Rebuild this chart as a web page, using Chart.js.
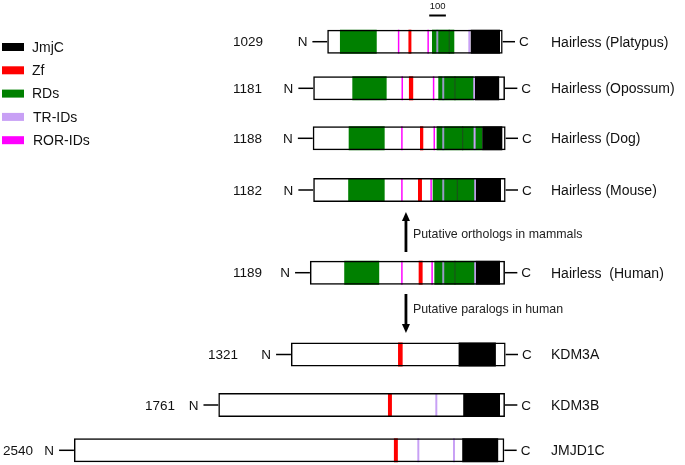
<!DOCTYPE html>
<html>
<head>
<meta charset="utf-8">
<script src="https://cdn.jsdelivr.net/npm/chart.js@4.4.1/dist/chart.umd.min.js"></script>
<style>
  html, body { margin: 0; padding: 0; background: #fff; }
  #wrap { width: 685px; height: 465px; }
</style>
</head>
<body>
<div id="wrap"><canvas id="domains" width="685" height="465"></canvas></div>
<script>
// Proteins, top to bottom (row index = position in these arrays)
const proteins = ['Hairless (Platypus)', 'Hairless (Opossum)', 'Hairless (Dog)', 'Hairless (Mouse)',
  'Hairless  (Human)', 'KDM3A', 'KDM3B', 'JMJD1C'];
const lengths = [1029, 1181, 1188, 1182, 1189, 1321, 1761, 2540];

// Positions in residues, C-termini aligned at 0
const boxes = [[-1077, -14], [-1162, 0], [-1165, 4], [-1162, 4], [-1182, 0], [-1297, 4], [-1737, 0], [-2612, -4]];

// [row, start, end]
const jmjc = [[0, -208, -30], [1, -182, -35], [2, -138, -16], [3, -178, -24], [4, -178, -30],
  [5, -281, -55], [6, -253, -30], [7, -259, -41]];
const zf = [[0, -585, -567], [1, -582, -556], [2, -515, -495], [3, -527, -503], [4, -523, -499],
  [5, -648, -620], [6, -709, -685], [7, -673, -649]];
const rds = [[0, -1000, -777], [0, -442, -307], [1, -925, -717], [1, -404, -188],
  [2, -947, -729], [2, -414, -138], [3, -950, -729], [3, -438, -178], [4, -974, -762], [4, -428, -178]];
const trIds = [[0, -222, -210], [1, -192, -182], [2, -190, -178], [3, -186, -176], [4, -186, -176],
  [6, -422, -410], [7, -531, -519], [7, -315, -303]];
const trIdsInRd = [[0, -416, -404], [1, -380, -368], [2, -380, -368], [3, -380, -368], [4, -380, -368]];
const rdSplits = [[0, -341, -335], [1, -306, -300], [2, -259, -253], [3, -292, -286], [4, -306, -300]];
const rorIds = [[0, -649, -640], [0, -470, -461], [1, -627, -618], [1, -437, -428],
  [2, -629, -620], [2, -433, -424], [3, -629, -620], [3, -452, -443], [4, -629, -620], [4, -446, -437]];

const scaleBar = [-459, -358]; // 100 residues

const legendNames = ['JmjC', 'Zf', 'RDs', 'TR-IDs', 'ROR-IDs'];
const legendColors = ['#000000', '#ff0000', '#008000', '#c8a0f5', '#ff00ff'];

// layout (pixels / axis units)
const X_MIN = -3060, X_MAX = 1091;
const rowY = [41.7, 88.3, 138.3, 190, 272.7, 354.5, 405, 450.3];
const lengthLabelX = [233, 233, 233, 233, 233, 208, 145, 3];
const N_STUB = 90, C_STUB = 75;
const FONT = '"Liberation Sans", Arial, sans-serif';

const toBars = (list) => list.map(([r, s, e]) => ({ x: [s, e], y: rowY[r] }));

const stubs = [];
boxes.forEach(([s, e], i) => {
  stubs.push({ x: [s - N_STUB, s], y: rowY[i] });
  stubs.push({ x: [e, e + C_STUB], y: rowY[i] });
});

function barSet(label, data, color, order, thickness) {
  return {
    label, data, order,
    backgroundColor: color,
    borderWidth: 0,
    barThickness: thickness,
    grouped: false,
    borderSkipped: false,
    inflateAmount: 0
  };
}

const textPlugin = {
  id: 'domainText',
  afterDatasetsDraw(chart) {
    const { ctx, scales: { x, y } } = chart;
    ctx.save();
    ctx.fillStyle = '#111';
    ctx.textBaseline = 'middle';

    proteins.forEach((name, i) => {
      const cy = y.getPixelForValue(rowY[i]) + 1;
      const left = x.getPixelForValue(boxes[i][0] - N_STUB);
      const right = x.getPixelForValue(boxes[i][1] + C_STUB);
      ctx.font = '13.5px ' + FONT;
      ctx.textAlign = 'left';
      ctx.fillText(String(lengths[i]), lengthLabelX[i], cy);
      ctx.textAlign = 'right';
      ctx.fillText('N', left - 5, cy);
      ctx.textAlign = 'left';
      ctx.fillText('C', right + 4, cy);
      ctx.font = '14px ' + FONT;
      ctx.fillText(name, 551, cy);
    });

    // scale bar label
    ctx.font = '9.5px ' + FONT;
    ctx.textAlign = 'center';
    ctx.fillText('100', x.getPixelForValue((scaleBar[0] + scaleBar[1]) / 2), 6.5);

    // legend
    ctx.font = '14px ' + FONT;
    ctx.textAlign = 'left';
    legendNames.forEach((n, i) => {
      const cy = 47 + i * 23.3;
      ctx.fillStyle = legendColors[i];
      ctx.fillRect(2, cy - 4, 22, 8);
      ctx.fillStyle = '#111';
      ctx.fillText(n, i >= 3 ? 33 : 32, cy + 1);
    });

    // arrows between groups
    const ax = x.getPixelForValue(-600);
    const arrows = [
      { from: 252, to: 212, text: 'Putative orthologs in mammals', ty: 235 },
      { from: 294, to: 333, text: 'Putative paralogs in human', ty: 310 }
    ];
    arrows.forEach(a => {
      const dir = a.to > a.from ? 1 : -1;
      ctx.strokeStyle = '#000';
      ctx.lineWidth = 2.8;
      ctx.beginPath();
      ctx.moveTo(ax, a.from);
      ctx.lineTo(ax, a.to - dir * 7);
      ctx.stroke();
      ctx.fillStyle = '#000';
      ctx.beginPath();
      ctx.moveTo(ax, a.to);
      ctx.lineTo(ax - 4, a.to - dir * 9);
      ctx.lineTo(ax + 4, a.to - dir * 9);
      ctx.closePath();
      ctx.fill();
      ctx.fillStyle = '#222';
      ctx.font = '12.4px ' + FONT;
      ctx.textAlign = 'left';
      ctx.fillText(a.text, ax + 7, a.ty);
    });
    ctx.restore();
  }
};

new Chart(document.getElementById('domains'), {
  type: 'bar',
  data: {
    datasets: [
      Object.assign(barSet('outline', boxes.map(([s, e], i) => ({ x: [s, e], y: rowY[i] })), 'rgba(0,0,0,0)', 0, 24),
        { borderWidth: 1.5, borderColor: '#000' }),
      barSet('TR-IDs', toBars(trIds), '#c8a0f5', 1, 24),
      barSet('TR-IDs in RD', toBars(trIdsInRd), '#9a9ac4', 1, 24),
      barSet('RD split', toBars(rdSplits), '#1e4a1e', 1, 24),
      barSet('ROR-IDs', toBars(rorIds), '#ff00ff', 1, 24),
      barSet('Zf', toBars(zf), '#ff0000', 1, 24),
      barSet('JmjC', toBars(jmjc), '#000000', 2, 24),
      barSet('RDs', toBars(rds), '#008000', 2, 24),
      barSet('stubs', stubs, '#000000', 3, 1.5),
      barSet('scale', [{ x: scaleBar, y: 15.5 }], '#000000', 3, 2)
    ]
  },
  options: {
    responsive: false,
    animation: false,
    indexAxis: 'y',
    layout: { padding: 0 },
    plugins: { legend: { display: false }, tooltip: { enabled: false } },
    scales: {
      x: { type: 'linear', min: X_MIN, max: X_MAX, display: false, offset: false },
      y: { type: 'linear', min: 0, max: 465, reverse: true, display: false, offset: false }
    }
  },
  plugins: [textPlugin]
});
</script>
</body>
</html>
